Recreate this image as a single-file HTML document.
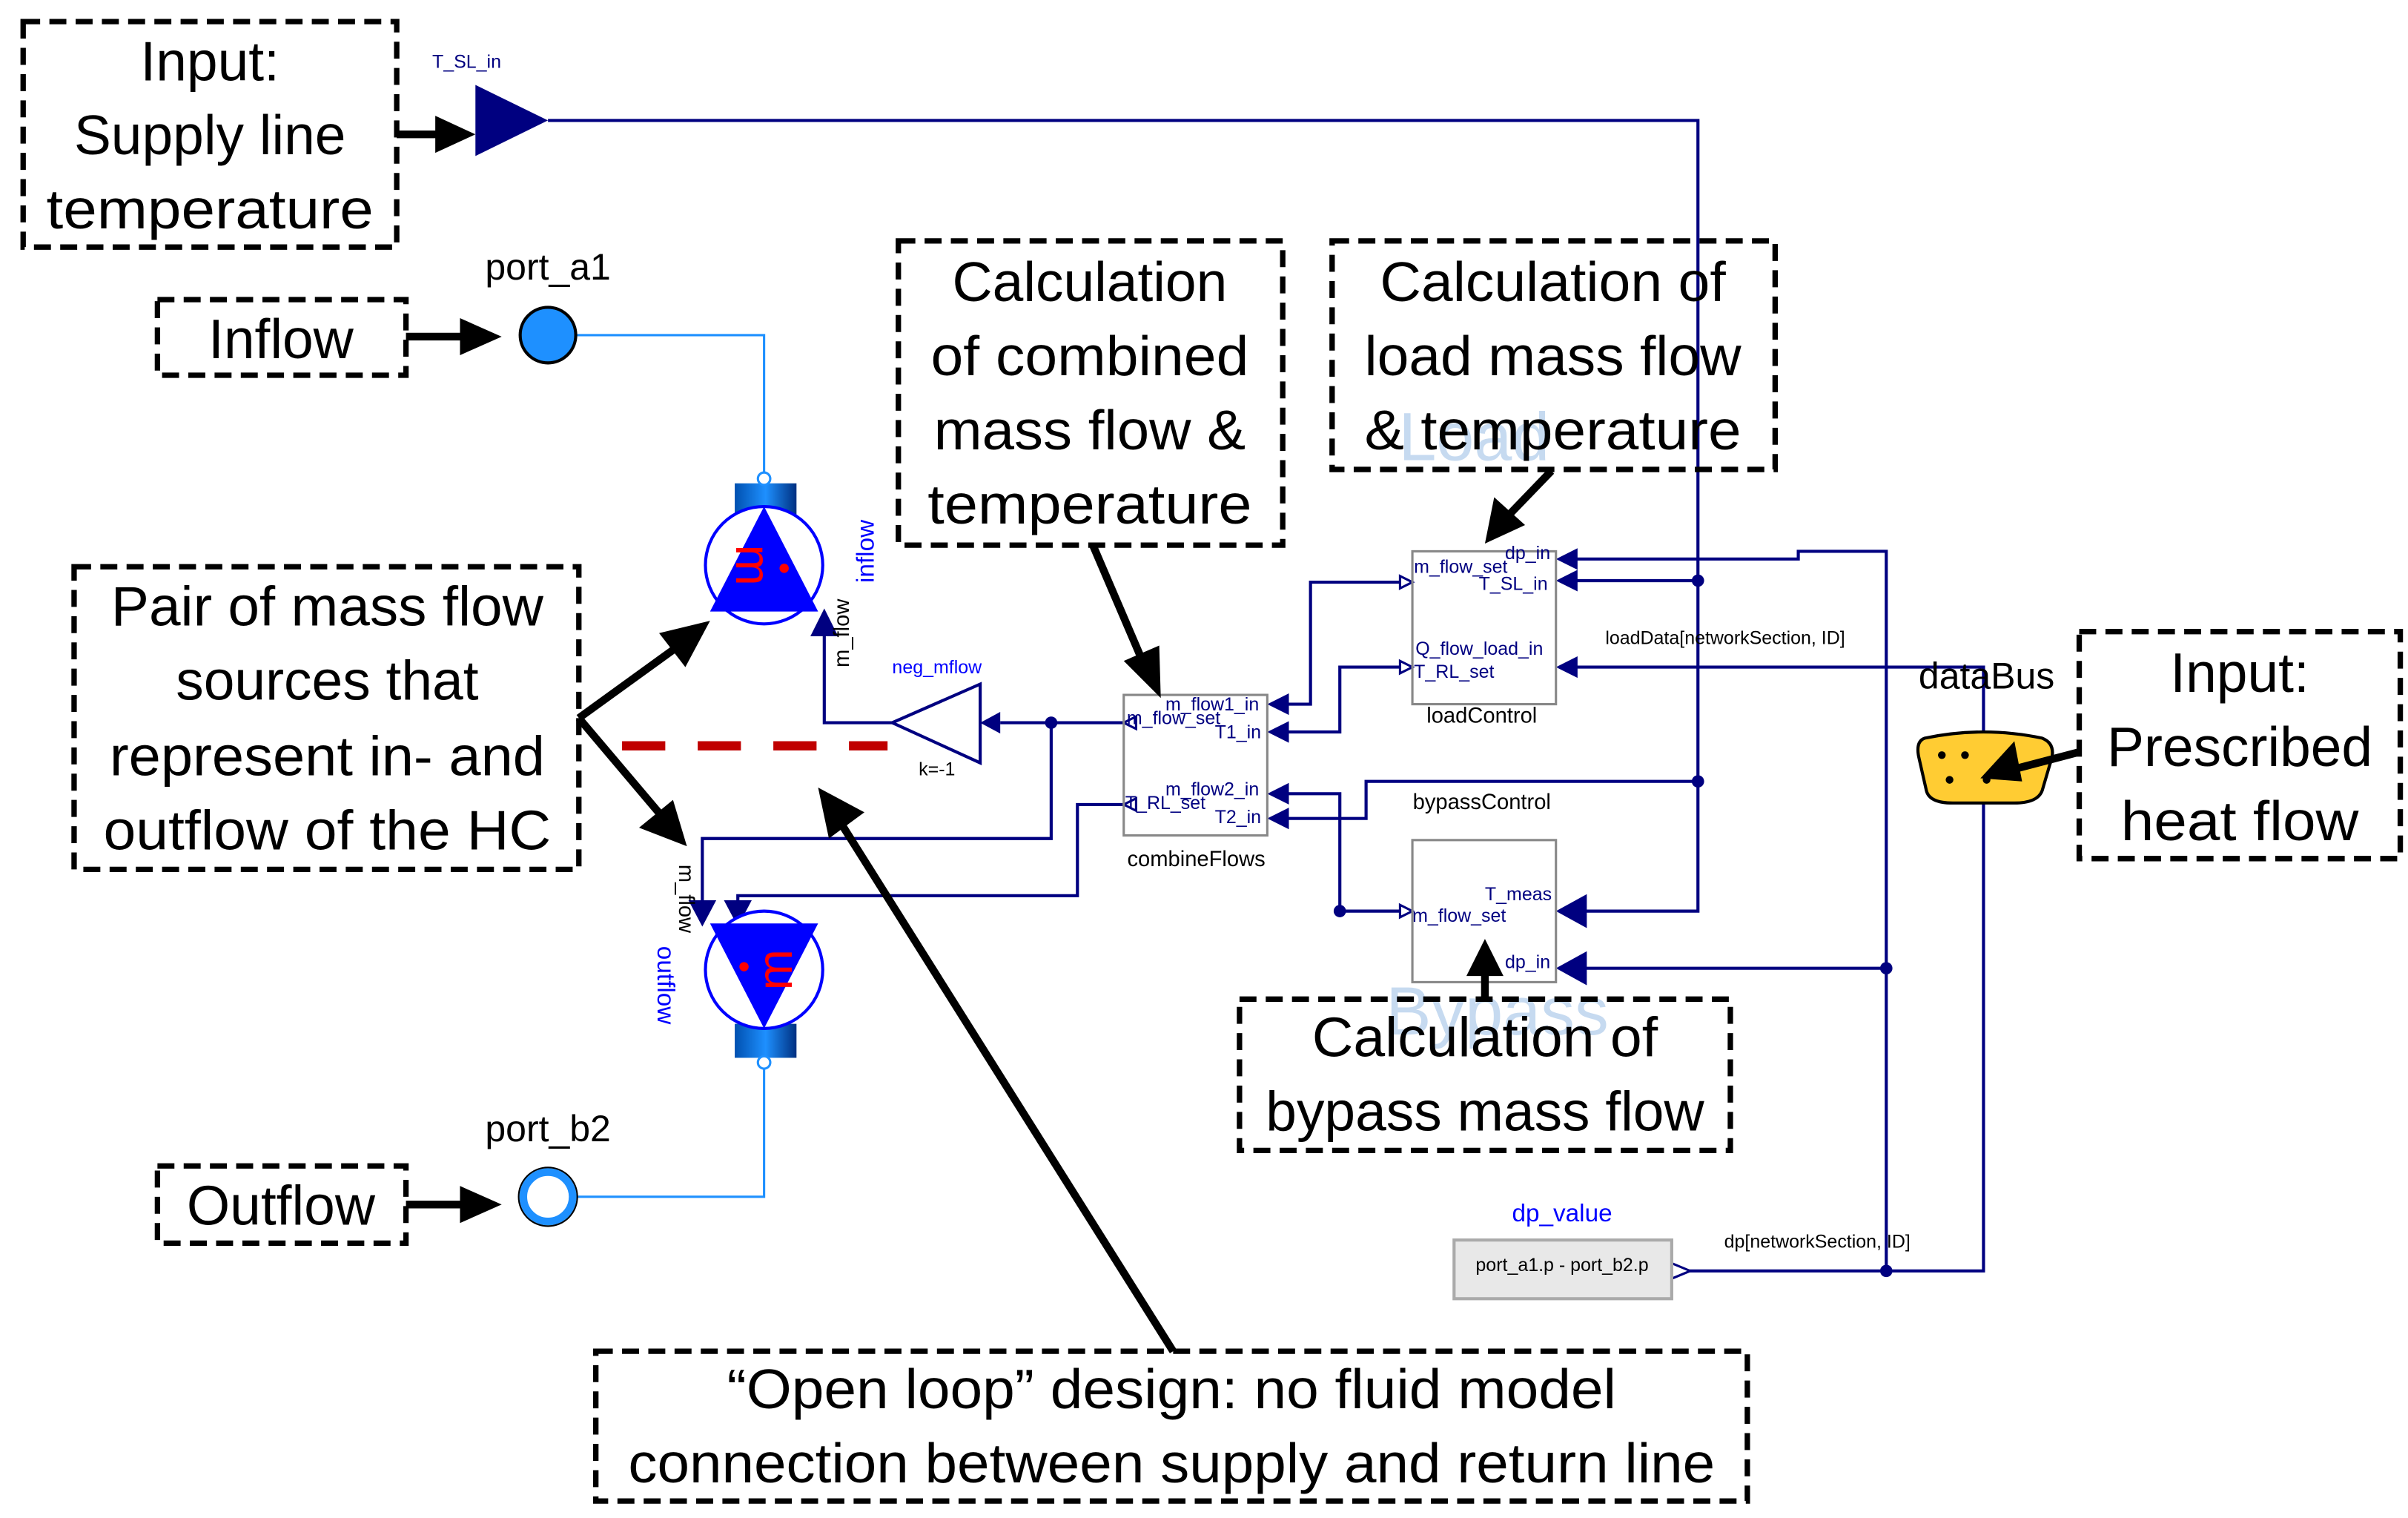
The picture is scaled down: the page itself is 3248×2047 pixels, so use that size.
<!DOCTYPE html>
<html><head><meta charset="utf-8"><style>
html,body{margin:0;padding:0;background:#fff;}
svg{display:block;}
.ann{font-family:"Liberation Sans",sans-serif;font-size:36px;fill:#000;text-anchor:middle;}
.sm{font-family:"Liberation Sans",sans-serif;font-size:12px;fill:#000080;}
.lb{font-family:"Liberation Sans",sans-serif;font-size:14px;fill:#000;}
.box{fill:none;stroke:#000;stroke-width:3.5;stroke-dasharray:11,6;}
.cn{fill:none;stroke:#000080;stroke-width:2;}
.ar{fill:none;stroke:#000;stroke-width:5;}
</style></head><body>
<svg width="3248" height="2047" viewBox="0 0 1560 983" preserveAspectRatio="none" xmlns="http://www.w3.org/2000/svg">
<defs>
<linearGradient id="pipe" x1="0" x2="1" y1="0" y2="0">
<stop offset="0" stop-color="#0050b0"/><stop offset="0.5" stop-color="#1e90ff"/><stop offset="1" stop-color="#003080"/>
</linearGradient>
</defs>
<rect width="1560" height="983" fill="#fff"/>

<text x="955" y="298" font-family="Liberation Sans,sans-serif" font-size="44" fill="#c6daf0" text-anchor="middle">Load</text>
<text x="970" y="670" font-family="Liberation Sans,sans-serif" font-size="44" fill="#c6daf0" text-anchor="middle">Bypass</text>

<polyline class="cn" points="355,78 1100,78 1100,590 1020,590"/>
<polyline class="cn" points="1100,376 1020,376"/>
<polyline class="cn" points="1100,506 885,506 885,530 833,530"/>
<circle cx="1100" cy="376" r="4" fill="#000080"/>
<circle cx="1100" cy="506" r="4" fill="#000080"/>
<polyline class="cn" points="1020,362 1165,362 1165,357 1222,357 1222,823"/>
<polyline class="cn" points="1222,627 1020,627"/>
<circle cx="1222" cy="627" r="4" fill="#000080"/>
<circle cx="1222" cy="823" r="4" fill="#000080"/>
<polyline class="cn" points="1020,432 1285,432 1285,823 1090,823"/>
<polyline class="cn" points="915,377 849,377 849,456 833,456"/>
<polyline class="cn" points="915,432 868,432 868,474 833,474"/>
<polyline class="cn" points="833,514 868,514 868,590 910,590"/>
<circle cx="868" cy="590" r="4" fill="#000080"/>
<polyline class="cn" points="728,468 648,468"/>
<circle cx="681" cy="468" r="4" fill="#000080"/>
<polyline class="cn" points="681,468 681,543 455,543 455,583"/>
<polyline class="cn" points="728,521 698,521 698,580 478,580 478,583"/>
<polyline class="cn" points="578,468 534,468 534,412"/>

<g fill="#000080">
<polygon points="1008,362 1022,355 1022,369"/>
<polygon points="1008,376 1022,369 1022,383"/>
<polygon points="1008,432 1022,425 1022,439"/>
<polygon points="1008,590 1028,579 1028,601"/>
<polygon points="1008,627 1028,616 1028,638"/>
<polygon points="821,456 835,449 835,463"/>
<polygon points="821,474 835,467 835,481"/>
<polygon points="821,514 835,507 835,521"/>
<polygon points="821,530 835,523 835,537"/>
<polygon points="635,468 648,461 648,475"/>
<polygon points="534,394 525,412 543,412"/>
<polygon points="455,600 446,583 464,583"/>
<polygon points="478,600 469,583 487,583"/>
<polygon points="308,55 355,78 308,101"/>
</g>
<g fill="#fff" stroke="#000080" stroke-width="1.5">
<polygon points="915,377 907,373 907,381"/>
<polygon points="915,432 907,428 907,436"/>
<polygon points="728,468 736,464 736,472"/>
<polygon points="728,521 736,517 736,525"/>
<polygon points="915,590 907,586 907,594"/>
<polygon points="1083,818 1095,823 1083,828"/>
</g>

<polygon points="578,468 635,443 635,494" fill="#fff" stroke="#000080" stroke-width="2"/>
<text x="607" y="436" class="sm" style="fill:#0000ff" text-anchor="middle">neg_mflow</text>
<text x="607" y="502" class="sm" style="fill:#000" text-anchor="middle">k=-1</text>

<rect x="728" y="450" width="93" height="91" fill="none" stroke="#888" stroke-width="1.5"/>
<text x="755" y="460" class="sm">m_flow1_in</text>
<text x="730" y="469" class="sm">m_flow_set</text>
<text x="787" y="478" class="sm">T1_in</text>
<text x="755" y="515" class="sm">m_flow2_in</text>
<text x="729" y="524" class="sm">T_RL_set</text>
<text x="787" y="533" class="sm">T2_in</text>
<text x="775" y="561" class="lb" text-anchor="middle">combineFlows</text>

<rect x="915" y="357" width="93" height="99" fill="none" stroke="#888" stroke-width="1.5"/>
<text x="975" y="362" class="sm">dp_in</text>
<text x="916" y="371" class="sm">m_flow_set</text>
<text x="958" y="382" class="sm">T_SL_in</text>
<text x="917" y="424" class="sm">Q_flow_load_in</text>
<text x="916" y="439" class="sm">T_RL_set</text>
<text x="960" y="468" class="lb" text-anchor="middle">loadControl</text>

<rect x="915" y="544" width="93" height="92" fill="none" stroke="#888" stroke-width="1.5"/>
<text x="960" y="524" class="lb" text-anchor="middle">bypassControl</text>
<text x="962" y="583" class="sm">T_meas</text>
<text x="915" y="597" class="sm">m_flow_set</text>
<text x="975" y="627" class="sm">dp_in</text>

<text x="1040" y="417" class="sm" style="fill:#000">loadData[networkSection, ID]</text>
<text x="1117" y="808" class="sm" style="fill:#000">dp[networkSection, ID]</text>
<text x="1287" y="446" font-family="Liberation Sans,sans-serif" font-size="24" text-anchor="middle">dataBus</text>
<path d="M1247,478 Q1285,470 1323,478 Q1333,482 1328,495 L1323,512 Q1320,520 1305,520 L1265,520 Q1250,520 1248,512 L1243,490 Q1241,480 1247,478 Z" fill="#ffcc33" stroke="#000" stroke-width="2"/>
<g fill="#000"><circle cx="1258" cy="489" r="2.5"/><circle cx="1273" cy="489" r="2.5"/><circle cx="1263" cy="505" r="2.5"/><circle cx="1287" cy="505" r="2.5"/></g>

<text x="1012" y="791" font-family="Liberation Sans,sans-serif" font-size="16" fill="#0000ff" text-anchor="middle">dp_value</text>
<rect x="942" y="803" width="141" height="38" fill="#e8e8e8" stroke="#aaa" stroke-width="2"/>
<text x="1012" y="823" class="sm" style="fill:#000;font-size:12px" text-anchor="middle">port_a1.p - port_b2.p</text>

<text x="280" y="44" class="sm">T_SL_in</text>
<text x="355" y="181" font-family="Liberation Sans,sans-serif" font-size="24" text-anchor="middle">port_a1</text>
<polyline points="373,217 495,217 495,308" fill="none" stroke="#1e90ff" stroke-width="1.5"/>
<circle cx="355" cy="217" r="18" fill="#1e90ff" stroke="#000" stroke-width="2"/>
<rect x="476" y="313" width="40" height="22" fill="url(#pipe)"/>
<circle cx="495" cy="310" r="4" fill="#fff" stroke="#1e90ff" stroke-width="1.5"/>
<circle cx="495" cy="366" r="38" fill="#fff" stroke="#0000ff" stroke-width="2"/>
<polygon points="495,328 460,396 530,396" fill="#0000ff"/>
<text x="486" y="375" font-family="Liberation Sans,sans-serif" font-size="32" fill="#ff0000" text-anchor="middle" transform="rotate(90 486 366)">m</text>
<circle cx="508" cy="368" r="3" fill="#ff0000"/>
<text x="566" y="357" font-family="Liberation Sans,sans-serif" font-size="16" fill="#0000ff" text-anchor="middle" transform="rotate(-90 566 357)">inflow</text>
<text x="550" y="410" font-family="Liberation Sans,sans-serif" font-size="14" text-anchor="middle" transform="rotate(-90 550 410)">m_flow</text>

<text x="440" y="582" font-family="Liberation Sans,sans-serif" font-size="14" text-anchor="middle" transform="rotate(90 440 582)">m_flow</text>
<text x="426" y="638" font-family="Liberation Sans,sans-serif" font-size="16" fill="#0000ff" text-anchor="middle" transform="rotate(90 426 638)">outflow</text>
<rect x="476" y="663" width="40" height="22" fill="url(#pipe)"/>
<circle cx="495" cy="628" r="38" fill="#fff" stroke="#0000ff" stroke-width="2"/>
<polygon points="495,666 460,598 530,598" fill="#0000ff"/>
<text x="504" y="637" font-family="Liberation Sans,sans-serif" font-size="32" fill="#ff0000" text-anchor="middle" transform="rotate(-90 504 628)">m</text>
<circle cx="482" cy="626" r="3" fill="#ff0000"/>
<circle cx="495" cy="688" r="4" fill="#fff" stroke="#1e90ff" stroke-width="1.5"/>
<polyline points="495,692 495,775 373,775" fill="none" stroke="#1e90ff" stroke-width="1.5"/>
<circle cx="355" cy="775" r="16" fill="#fff" stroke="#1e90ff" stroke-width="5"/>
<circle cx="355" cy="775" r="19" fill="none" stroke="#000" stroke-width="1"/>
<text x="355" y="739" font-family="Liberation Sans,sans-serif" font-size="24" text-anchor="middle">port_b2</text>

<line x1="403" y1="483" x2="575" y2="483" stroke="#c00000" stroke-width="6" stroke-dasharray="28,21"/>

<rect x="15" y="14" width="242" height="146" class="box"/>
<text x="136" y="52" class="ann">Input:</text>
<text x="136" y="100" class="ann">Supply line</text>
<text x="136" y="148" class="ann" textLength="212" lengthAdjust="spacingAndGlyphs">temperature</text>

<rect x="102" y="194" width="161" height="49" class="box"/>
<text x="182" y="232" class="ann">Inflow</text>

<rect x="102" y="755" width="161" height="50" class="box"/>
<text x="182" y="793" class="ann">Outflow</text>

<rect x="48" y="367" width="327" height="196" class="box"/>
<text x="212" y="405" class="ann" textLength="280" lengthAdjust="spacingAndGlyphs">Pair of mass flow</text>
<text x="212" y="453" class="ann">sources that</text>
<text x="212" y="502" class="ann" textLength="282" lengthAdjust="spacingAndGlyphs">represent in- and</text>
<text x="212" y="550" class="ann" textLength="290" lengthAdjust="spacingAndGlyphs">outflow of the HC</text>

<rect x="582" y="156" width="249" height="197" class="box"/>
<text x="706" y="195" class="ann">Calculation</text>
<text x="706" y="243" class="ann" textLength="206" lengthAdjust="spacingAndGlyphs">of combined</text>
<text x="706" y="291" class="ann" textLength="202" lengthAdjust="spacingAndGlyphs">mass flow &amp;</text>
<text x="706" y="339" class="ann" textLength="210" lengthAdjust="spacingAndGlyphs">temperature</text>

<rect x="863" y="156" width="287" height="148" class="box"/>
<text x="1006" y="195" class="ann" textLength="224" lengthAdjust="spacingAndGlyphs">Calculation of</text>
<text x="1006" y="243" class="ann" textLength="244" lengthAdjust="spacingAndGlyphs">load mass flow</text>
<text x="1006" y="291" class="ann" textLength="244" lengthAdjust="spacingAndGlyphs">&amp; temperature</text>

<rect x="803" y="647" width="318" height="98" class="box"/>
<text x="962" y="684" class="ann" textLength="224" lengthAdjust="spacingAndGlyphs">Calculation of</text>
<text x="962" y="732" class="ann" textLength="284" lengthAdjust="spacingAndGlyphs">bypass mass flow</text>

<rect x="1347" y="409" width="208" height="147" class="box"/>
<text x="1451" y="448" class="ann">Input:</text>
<text x="1451" y="496" class="ann" textLength="172" lengthAdjust="spacingAndGlyphs">Prescribed</text>
<text x="1451" y="544" class="ann" textLength="154" lengthAdjust="spacingAndGlyphs">heat flow</text>

<rect x="386" y="875" width="746" height="97" class="box"/>
<text x="759" y="912" class="ann" textLength="576" lengthAdjust="spacingAndGlyphs">“Open loop” design: no fluid model</text>
<text x="759" y="960" class="ann" textLength="704" lengthAdjust="spacingAndGlyphs">connection between supply and return line</text>

<g>
<line x1="257" y1="87" x2="285" y2="87" class="ar"/><polygon points="308,87 282,75 282,99" fill="#000"/>
<line x1="263" y1="218" x2="300" y2="218" class="ar"/><polygon points="325,218 298,206 298,230" fill="#000"/>
<line x1="263" y1="780" x2="300" y2="780" class="ar"/><polygon points="325,780 298,768 298,792" fill="#000"/>
<line x1="375" y1="465" x2="440" y2="418" class="ar"/><polygon points="460,402 444,432 427,410" fill="#000"/>
<line x1="375" y1="465" x2="430" y2="530" class="ar"/><polygon points="445,548 414,536 436,518" fill="#000"/>
<line x1="708" y1="353" x2="741" y2="430" class="ar"/><polygon points="752,452 728,428 751,418" fill="#000"/>
<line x1="1005" y1="305" x2="978" y2="333" class="ar"/><polygon points="962,352 968,322 988,340" fill="#000"/>
<line x1="962" y1="647" x2="962" y2="628" class="ar"/><polygon points="962,608 950,632 974,632" fill="#000"/>
<line x1="1347" y1="487" x2="1305" y2="498" class="ar"/><polygon points="1283,504 1305,480 1310,506" fill="#000"/>
<line x1="760" y1="875" x2="546" y2="535" class="ar"/><polygon points="530,510 560,526 537,543" fill="#000"/>
</g>
</svg>
</body></html>
